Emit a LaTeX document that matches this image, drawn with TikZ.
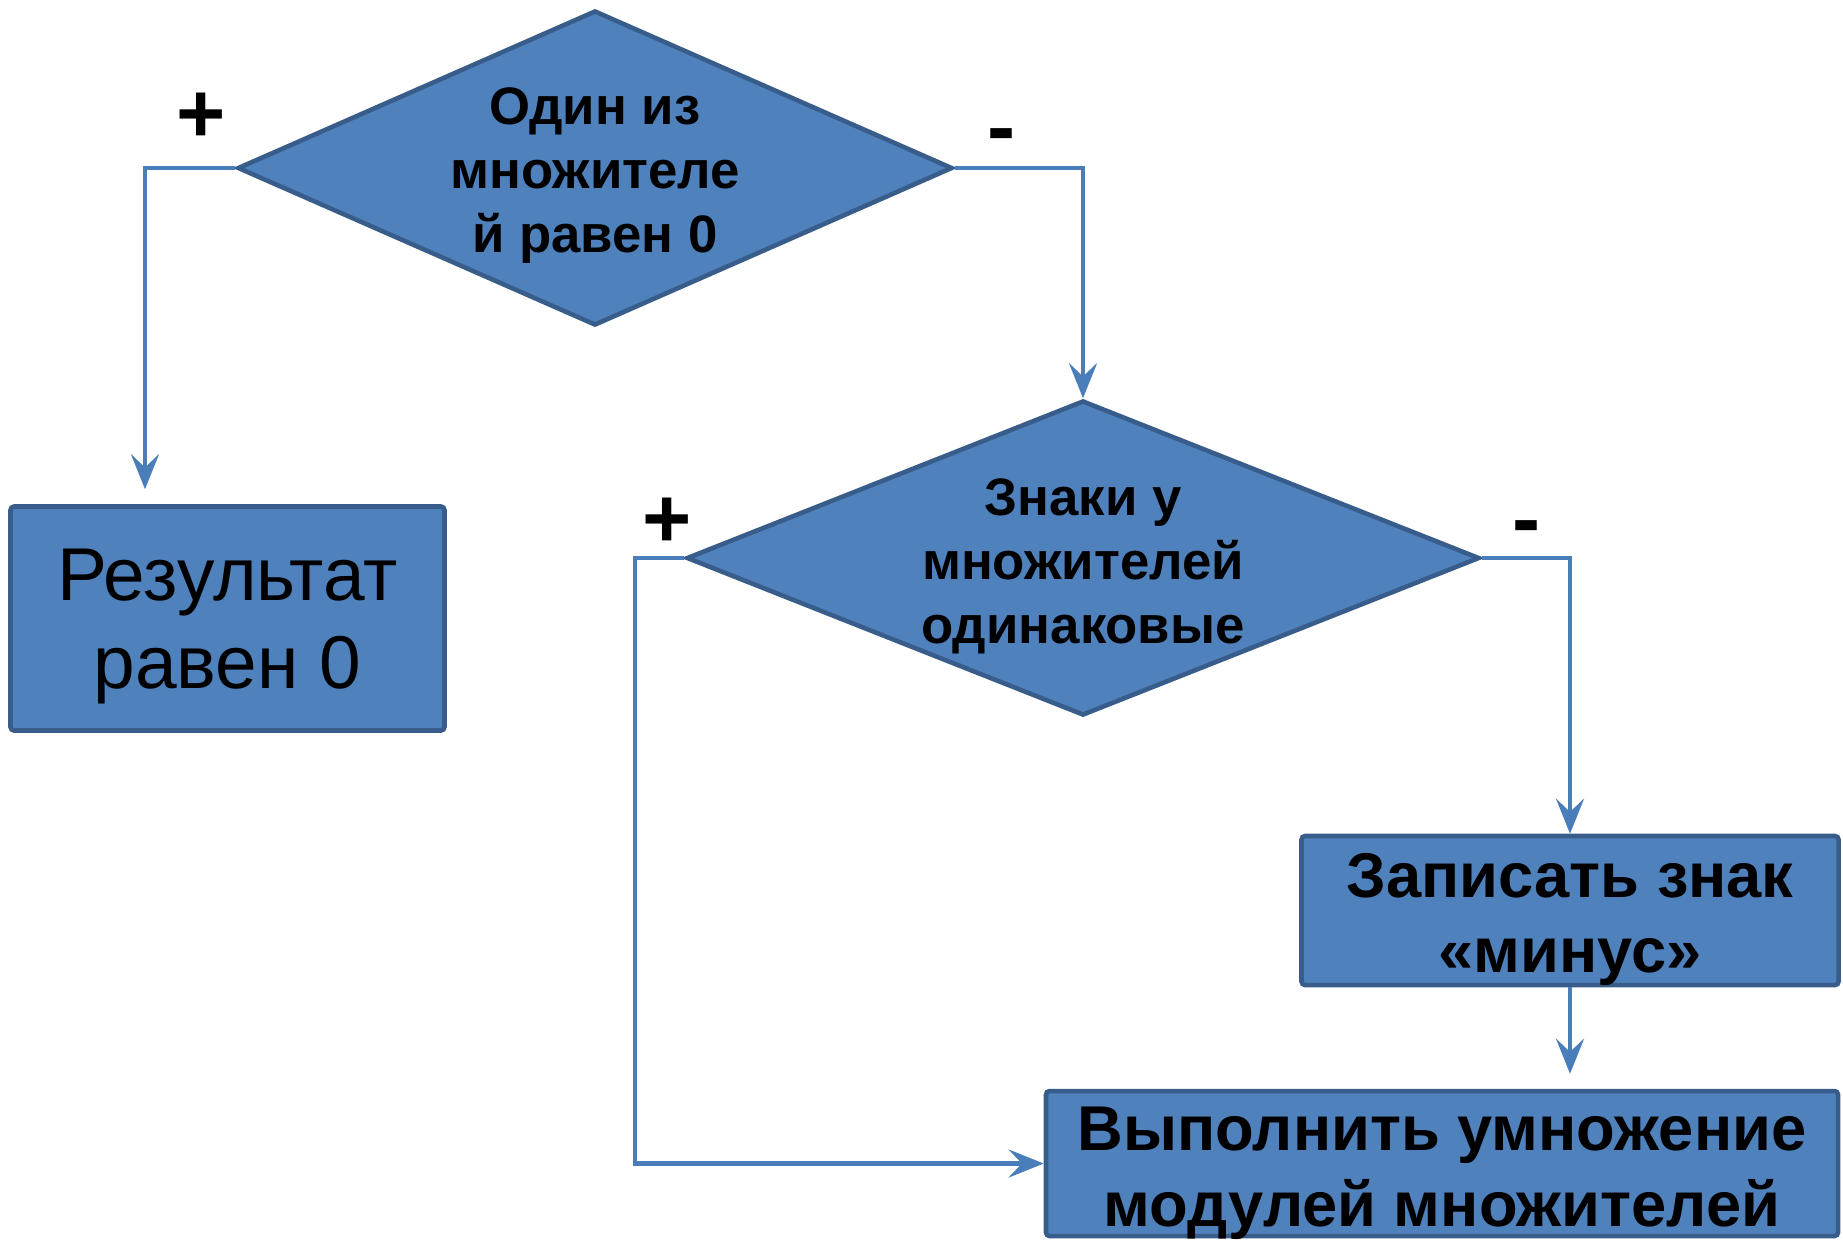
\documentclass[tikz,border=0pt]{standalone}
\usepackage{fontspec}
\setmainfont{Liberation Sans}
\usetikzlibrary{shapes.geometric,arrows.meta}

\definecolor{boxfill}{HTML}{4F81BD}
\definecolor{boxline}{HTML}{385D8A}
\definecolor{flowline}{HTML}{4A7EBB}

\begin{document}
\begin{tikzpicture}[
        block/.style={draw=boxline, fill=boxfill, line width=1.3pt, rounded corners=1pt, inner sep=0pt},
        decision/.style={diamond, draw=boxline, fill=boxfill, line width=1.3pt, inner sep=0pt},
        dtext/.style={align=center, font=\fontsize{15}{18.2}\selectfont\bfseries},
        btext/.style={align=center, font=\fontsize{18}{21.6}\selectfont\bfseries},
        flow/.style={draw=flowline, line width=1.2pt, -{Stealth[length=10pt, width=8pt, inset=3.8pt]}},
        sign/.style={font=\fontsize{24}{28}\selectfont\bfseries, inner sep=0pt}
    ]
        \useasboundingbox (0.0, 0.0) rectangle (18.43, -12.40);

        \node[decision, minimum width=7.15cm, minimum height=3.15cm] (one) at (5.95, -1.68) {};
        \node[dtext] (onetext) at ([yshift=-0.08cm]one) {Один из\\множителе\\й равен 0};

        \node[decision, minimum width=7.93cm, minimum height=3.15cm] (two) at (10.83, -5.58) {};
        \node[dtext] (twotext) at ([yshift=-0.08cm]two) {Знаки у\\множителей\\одинаковые};

        \node[block, minimum width=4.34cm, minimum height=2.24cm] (res) at (2.275, -6.185) {};
        \node[align=center, font=\fontsize{21.3}{25.3}\selectfont] (restext) at ([yshift=-0.08cm]res) {Результат\\равен 0};

        \node[block, minimum width=5.37cm, minimum height=1.49cm] (minus) at (15.70, -9.105) {};
        \node[btext] (minustext) at ([yshift=-0.09cm]minus) {Записать знак\\«минус»};

        \node[block, minimum width=7.92cm, minimum height=1.45cm] (mult) at (14.42, -11.635) {};
        \node[btext] (multtext) at ([yshift=-0.10cm]mult) {Выполнить умножение\\модулей множителей};

        \node[sign] (plusone) at (2.01, -1.18) {+};
        \node[sign] (minusone) at (10.02, -1.42) {-};
        \node[sign] (plustwo) at (6.67, -5.23) {+};
        \node[sign] (minustwo) at (15.27, -5.34) {-};

        \draw[flow, shorten >=0.15cm] (one.west) -| ([xshift=-0.825cm]res.north);
        \draw[flow] (one.east) -| (two.north);
        \draw[flow] (two.east) -| (minus.north);
        \draw[flow, shorten >=0.15cm] (minus.south) -- (mult.north -| minus.south);
        \draw[flow] (two.west) -- ++(-0.49, 0) |- (mult.west);
    \end{tikzpicture}
\end{document}
